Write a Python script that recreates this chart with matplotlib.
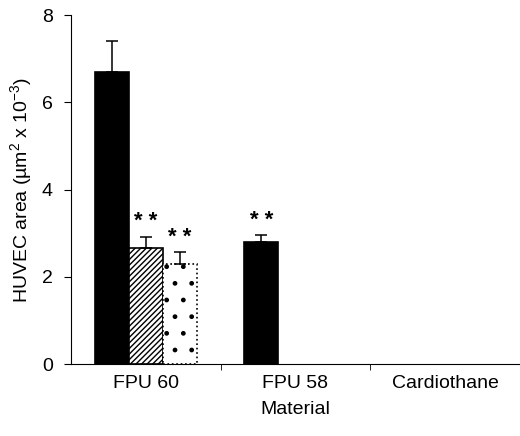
import matplotlib
matplotlib.use("Agg")
import matplotlib.pyplot as plt
import numpy as np

plt.rcParams["font.family"] = ["Liberation Sans", "DejaVu Sans"]
plt.rcParams["mathtext.default"] = "regular"
plt.rcParams["hatch.linewidth"] = 1.0

# data
materials = ["FPU 60", "FPU 58", "Cardiothane"]
series_black = [6.7, 2.8, 0.0]
series_hatched = [2.67, 0.0, 0.0]
series_dotted = [2.3, 0.0, 0.0]
err_black = [0.7, 0.15, 0.0]
err_hatched = [0.25, 0.0, 0.0]
err_dotted = [0.27, 0.0, 0.0]
signif_black = ["", "* *", ""]
signif_hatched = ["* *", "", ""]
signif_dotted = ["* *", "", ""]

x = np.arange(len(materials))
w = 0.228

fig = plt.figure(figsize=(5.2, 4.36), dpi=100)
ax = fig.add_axes([0.1365, 0.165, 0.8635, 0.8005])

styles = [
    (series_black, err_black, signif_black, -w, dict(color="black", edgecolor="black")),
    (series_hatched, err_hatched, signif_hatched, 0.0, dict(color="white", edgecolor="black", hatch="//////")),
    (series_dotted, err_dotted, signif_dotted, w, dict(color="white", edgecolor="black", hatch=".", linestyle=":")),
]

for vals, errs, sig, off, kw in styles:
    for xi, v, e, s in zip(x, vals, errs, sig):
        if v <= 0:
            continue
        ax.bar(xi + off, v, width=w, linewidth=1.2, **kw)
        ax.errorbar(xi + off, v, yerr=[[0], [e]], color="black", capsize=4.5,
                    elinewidth=1.1, capthick=1.1)
        if s:
            ax.text(xi + off, v + e + 0.1, s, ha="center", va="bottom",
                    fontsize=16, fontweight="bold")

ax.set_xlim(-0.5, 2.5)
ax.set_ylim(0, 8)
ax.set_yticks([0, 2, 4, 6, 8])
ax.set_xticks(x)
ax.set_xticklabels(materials)
ax.set_xticks([0.5, 1.5], minor=True)
ax.tick_params(axis="x", which="major", length=0, pad=8, labelsize=14)
ax.tick_params(axis="x", which="minor", length=4, direction="out")
ax.tick_params(axis="y", length=5, direction="out", labelsize=14, pad=8)
ax.set_xlabel("Material", fontsize=14, labelpad=6)
ax.set_ylabel("HUVEC area (µm$^2$ x 10$^{-3}$)", fontsize=14, labelpad=6)

for sp in ["top", "right"]:
    ax.spines[sp].set_visible(False)

fig.savefig("out.png", dpi=100)
